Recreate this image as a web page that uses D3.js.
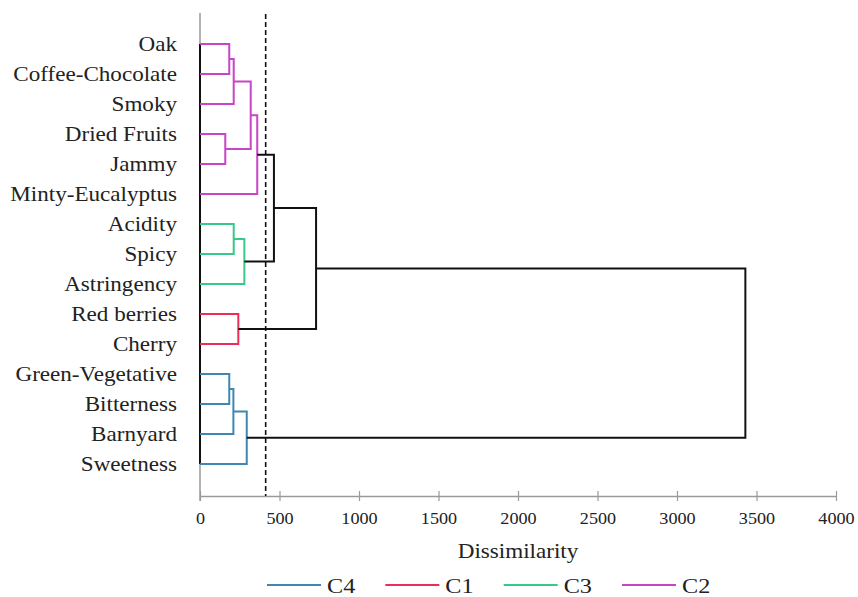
<!DOCTYPE html>
<html>
<head>
<meta charset="utf-8">
<script src="https://cdn.jsdelivr.net/npm/d3@7"></script>
<style>
  html, body { margin: 0; padding: 0; background: #fff; }
  svg { display: block; }
  svg text { font-family: "Liberation Serif", "Times New Roman", serif !important; fill: #222; }
</style>
</head>
<body>
<svg id="chart" width="858" height="597"></svg>
<script>
// ---------------- data ----------------
const leaves = ["Oak", "Coffee-Chocolate", "Smoky", "Dried Fruits", "Jammy", "Minty-Eucalyptus",
  "Acidity", "Spicy", "Astringency", "Red berries", "Cherry",
  "Green-Vegetative", "Bitterness", "Barnyard", "Sweetness"];
// merges (scipy-like linkage): children indices (0..14 leaves, 15+ previous merges)
const mergeLeft  = [0, 15, 3, 16, 18, 6, 20, 19, 9, 22, 11, 25, 26, 24];
const mergeRight = [1, 2, 4, 17, 5, 7, 8, 21, 10, 23, 12, 13, 14, 27];
const mergeHeight = [184, 212, 159, 319, 360, 212, 279, 465, 241, 730, 184, 210, 294, 3430];
const mergeCluster = ["C2", "C2", "C2", "C2", "C2", "C3", "C3", "none", "C1", "none", "C4", "C4", "C4", "none"];
const cutoff = 413;
const xTicks = [0, 500, 1000, 1500, 2000, 2500, 3000, 3500, 4000];
const legendItems = ["C4", "C1", "C3", "C2"];
const clusterColors = { C4: "#3f87b2", C1: "#ec2d58", C3: "#38c98a", C2: "#c845c8", none: "#111" };

// ---------------- layout ----------------
const svg = d3.select("#chart");
const X0 = 200, X1 = 836, AXIS_Y = 496;
const SERIF = "'Liberation Serif', 'Times New Roman', serif";
const x = d3.scaleLinear().domain([0, 4000]).range([X0, X1]);
const y = d3.scalePoint().domain(leaves).range([44, 464]);
const SX = 1.1; // horizontal text stretch of the original

// node positions
const nodeY = leaves.map(l => y(l));
const nodeH = leaves.map(() => 0);
mergeHeight.forEach((h, i) => {
  nodeY.push((nodeY[mergeLeft[i]] + nodeY[mergeRight[i]]) / 2);
  nodeH.push(h);
});

// y axis (gray)
svg.append("line")
  .attr("x1", X0).attr("x2", X0).attr("y1", 13).attr("y2", AXIS_Y + 5)
  .attr("stroke", "#9a9a9a").attr("stroke-width", 1.5);

// x axis
const xAxis = svg.append("g")
  .attr("transform", `translate(0,${AXIS_Y})`)
  .call(d3.axisBottom(x).tickValues(xTicks).tickSizeOuter(0).tickSizeInner(5).tickFormat(d3.format("d")));
xAxis.attr("font-family", SERIF).attr("font-size", 16.5);
xAxis.select(".domain").attr("stroke", "#9a9a9a").attr("stroke-width", 1.5);
xAxis.selectAll(".tick line").attr("y1", -5).attr("y2", 5).attr("stroke", "#9a9a9a").attr("stroke-width", 1.2);
xAxis.selectAll(".tick text")
  .attr("y", 0).attr("dy", 0)
  .attr("transform", `translate(0,28) scale(${SX},1)`)
  .attr("font-family", SERIF)
  .style("font-family", SERIF)
  .style("font-size", "16.5px").attr("fill", "#222");

// leaf baseline (black)
svg.append("line")
  .attr("x1", X0).attr("x2", X0).attr("y1", y(leaves[0])).attr("y2", y(leaves[leaves.length - 1]))
  .attr("stroke", "#111").attr("stroke-width", 2);

// dendrogram brackets
const line = d3.line();
mergeHeight.forEach((h, i) => {
  const a = mergeLeft[i], b = mergeRight[i];
  const pts = [
    [x(nodeH[a]), nodeY[a]], [x(h), nodeY[a]],
    [x(h), nodeY[b]], [x(nodeH[b]), nodeY[b]]
  ];
  svg.append("path")
    .attr("d", line(pts))
    .attr("fill", "none")
    .attr("stroke", clusterColors[mergeCluster[i]])
    .attr("stroke-width", 2);
});

// cutoff dashed line
svg.append("line")
  .attr("x1", x(cutoff)).attr("x2", x(cutoff)).attr("y1", 14).attr("y2", AXIS_Y)
  .attr("stroke", "#111").attr("stroke-width", 1.6).attr("stroke-dasharray", "5,3");

// leaf labels
svg.append("g").selectAll("text").data(leaves).join("text")
  .attr("transform", d => `translate(177,${y(d) + 7}) scale(${SX},1)`)
  .attr("text-anchor", "end")
  .style("font-family", SERIF)
  .style("font-size", "21px")
  .text(d => d);

// axis title
svg.append("text")
  .attr("transform", `translate(518,558) scale(${SX},1)`)
  .attr("text-anchor", "middle")
  .style("font-family", SERIF)
  .style("font-size", "21px")
  .text("Dissimilarity");

// legend
const legendX = d3.scalePoint().domain(legendItems).range([267, 622]);
const lg = svg.append("g").selectAll("g").data(legendItems).join("g")
  .attr("transform", d => `translate(${legendX(d)},585)`);
lg.append("line").attr("x1", 0).attr("x2", 54).attr("y1", 0).attr("y2", 0)
  .attr("stroke", d => clusterColors[d]).attr("stroke-width", 2.2);
lg.append("text")
  .attr("transform", `translate(60,8) scale(${SX},1)`)
  .style("font-family", SERIF)
  .style("font-size", "22px")
  .text(d => d);
</script>
</body>
</html>
